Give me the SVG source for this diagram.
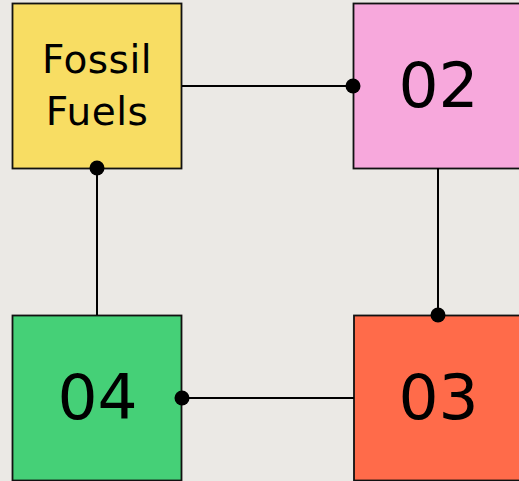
<svg xmlns="http://www.w3.org/2000/svg" width="519" height="481" viewBox="0 0 519 481">
  <style>
    .box { stroke: #111; stroke-width: 1.8; }
    .label { font-family: "DejaVu Sans", "Liberation Sans", sans-serif; fill: #000; text-anchor: middle; }
    .num { font-size: 63px; }
    .name { font-size: 39px; letter-spacing: 0.5px; }
    .link { stroke: #000; stroke-width: 2; fill: none; }
    .dot { fill: #000; }
  </style>
  <rect width="519" height="481" fill="#ebe9e5"/>

  <g id="fossil-fuels">
    <rect class="box" x="12.5" y="3.5" width="169" height="165" fill="#f8dd63"/>
    <text class="label name" x="97" y="73">Fossil</text>
    <text class="label name" x="97" y="125">Fuels</text>
  </g>

  <g id="n02">
    <rect class="box" x="353.5" y="3.5" width="170" height="165" fill="#f7a8dc"/>
    <text class="label num" x="438.5" y="107">02</text>
  </g>

  <g id="n03">
    <rect class="box" x="354" y="315.5" width="170" height="165" fill="#ff6b4a"/>
    <text class="label num" x="438.5" y="419">03</text>
  </g>

  <g id="n04">
    <rect class="box" x="12.5" y="315.5" width="169" height="165" fill="#45d077"/>
    <text class="label num" x="97.5" y="419">04</text>
  </g>

  <!-- links between the four boxes, each ending in a round dot -->
  <g id="connectors">
    <line class="link" x1="182" y1="86" x2="353" y2="86"/>
    <circle class="dot" cx="353" cy="86" r="7.5"/>
    <line class="link" x1="438" y1="168" x2="438" y2="315"/>
    <circle class="dot" cx="438" cy="315" r="7.5"/>
    <line class="link" x1="354" y1="398" x2="182" y2="398"/>
    <circle class="dot" cx="182" cy="398" r="7.5"/>
    <line class="link" x1="97" y1="315" x2="97" y2="168"/>
    <circle class="dot" cx="97" cy="168" r="7.5"/>
  </g>
</svg>
